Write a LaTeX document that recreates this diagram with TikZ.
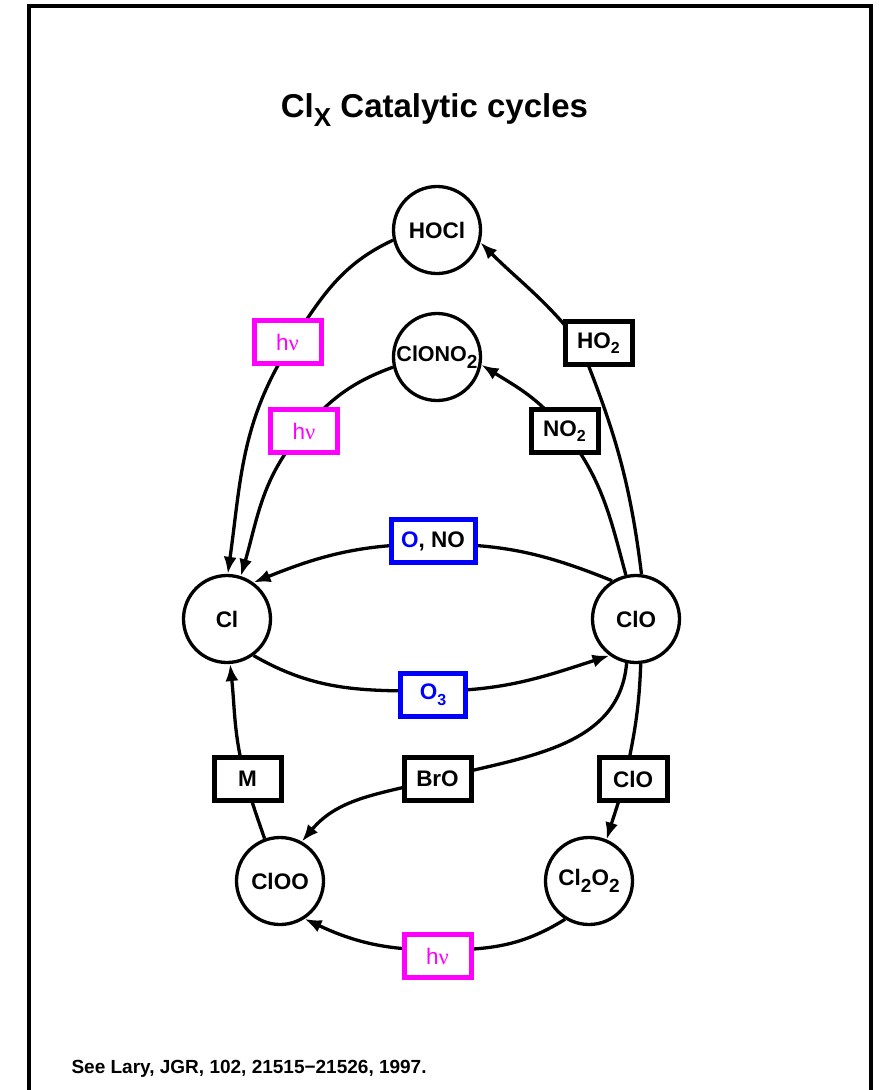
\documentclass[tikz,border=0pt]{standalone}
\usepackage{fontspec}
\setmainfont{Liberation Sans}
\newfontfamily\nufont{Liberation Serif}
\usetikzlibrary{arrows.meta,backgrounds}
\definecolor{hvmag}{RGB}{255,0,255}
\definecolor{oblue}{RGB}{0,0,255}
% lowered subscripts in two sizes
\newcommand{\bigsub}[1]{\raisebox{-0.3em}{\fontsize{19}{19}\selectfont #1}}
\newcommand{\smallsub}[1]{\raisebox{-0.25em}{\fontsize{16}{16}\selectfont #1}}
\newcommand{\hnu}{h{\nufont ν}}
\begin{document}
\begin{tikzpicture}[x=1pt,y=1pt,
  species/.style={circle, draw, line width=3.3pt, fill=white, minimum size=87pt,
    inner sep=0pt, font=\fontsize{22.5}{24}\selectfont\bfseries},
  agent/.style={rectangle, draw, line width=5pt, fill=white, minimum width=67pt,
    minimum height=43pt, inner sep=0pt, font=\fontsize{22.5}{24}\selectfont\bfseries},
  photo/.style={agent, draw=hvmag, text=hvmag, font=\fontsize{22.5}{24}\selectfont},
  oxy/.style={agent, draw=oblue},
  flow/.style={line width=3.3pt, -{Latex[length=17pt,width=13pt]}}]
\useasboundingbox (0,0) rectangle (879,-1090);

% page frame, open at the bottom
\draw[line width=3.5pt] (29,-1095) -- (29,-6) -- (871,-6) -- (871,-1095);

% title and reference
\node[anchor=base, font=\fontsize{33}{36}\selectfont\bfseries] (title) at (434.5,-117)
  {Cl\raisebox{-0.3em}{\fontsize{26}{26}\selectfont X} Catalytic cycles};
\node[anchor=base west, font=\fontsize{19}{20}\selectfont\bfseries] (ref) at (68,-1073)
  {See Lary, JGR, 102, 21515\textminus 21526, 1997.};

% chlorine species
\node[species] (hocl)   at (437,-230) {HOCl};
\node[species, font=\fontsize{21.5}{23}\selectfont\bfseries] (clono2) at (437,-357) {ClONO\bigsub{2}};
\node[species] (cl)     at (227,-619) {Cl};
\node[species] (clo)    at (636,-619) {ClO};
\node[species] (cloo)   at (280,-881) {ClOO};
\node[species] (cl2o2)  at (589,-881) {Cl\bigsub{2}O\bigsub{2}};

% reaction partners
\node[photo] (hvA)    at (287.5,-342) {\hnu};
\node[photo] (hvB)    at (304,-431)   {\hnu};
\node[agent] (hotwo)  at (598.5,-343) {HO\smallsub{2}};
\node[agent] (notwo)  at (564.5,-431) {NO\smallsub{2}};
\node[oxy, minimum width=84pt] (ono) at (433,-541) {\textcolor{oblue}{O}, NO};
\node[oxy, minimum width=65pt, text=oblue] (othree) at (433,-695) {O\smallsub{3}};
\node[agent] (mlbl)   at (247.5,-779) {M};
\node[agent] (bro)    at (437.5,-779) {BrO};
\node[agent, minimum width=68pt] (clolbl) at (633,-779) {ClO};
\node[photo] (hvC)    at (437.5,-956) {\hnu};

\begin{pgfonlayer}{background}
\fill[white] (0,0) rectangle (879,-1090);
% HOCl branch
\draw[flow] (clo.83) to[out=97,in=-68] ([xshift=-19pt]hotwo.center)
  to[out=128,in=-45] (hocl.-16);
\draw[flow] (hocl.193) to[out=205,in=57] ([xshift=4.5pt]hvA.center)
  to[out=237,in=82] (cl.89);
% ClONO2 branch
\draw[flow] (clo.103) to[out=105,in=-52] (notwo.center)
  to[out=128,in=-32] (clono2.-10);
\draw[flow] (clono2.193) to[out=200,in=49] ([xshift=-1.5pt]hvB.center)
  to[out=229,in=74] (cl.72);
% Cl <-> ClO
\draw[flow] (clo.122) to[out=158,in=0] ([yshift=-3pt]ono.center)
  to[out=180,in=22] (cl.54);
\draw[flow] (cl.-54) to[out=-30,in=180] ([yshift=4pt]othree.center)
  to[out=0,in=198] (clo.-126);
% dimer and BrO branches
\draw[flow] (clo.258) to[out=265,in=15] (bro.center)
  to[out=195,in=50] (cloo.61);
\draw[flow] (clo.-84) to[out=268,in=78] ([xshift=-8pt]clolbl.center)
  to[out=255,in=73] (cl2o2.67);
\draw[flow] (cl2o2.238) to[out=212,in=0] ([yshift=6pt]hvC.center)
  to[out=180,in=-25] (cloo.-57);
\draw[flow] (cloo.110) to[out=109,in=-75] ([xshift=-2pt]mlbl.center)
  to[out=105,in=-84] (cl.-86);
\end{pgfonlayer}
\end{tikzpicture}
\end{document}
